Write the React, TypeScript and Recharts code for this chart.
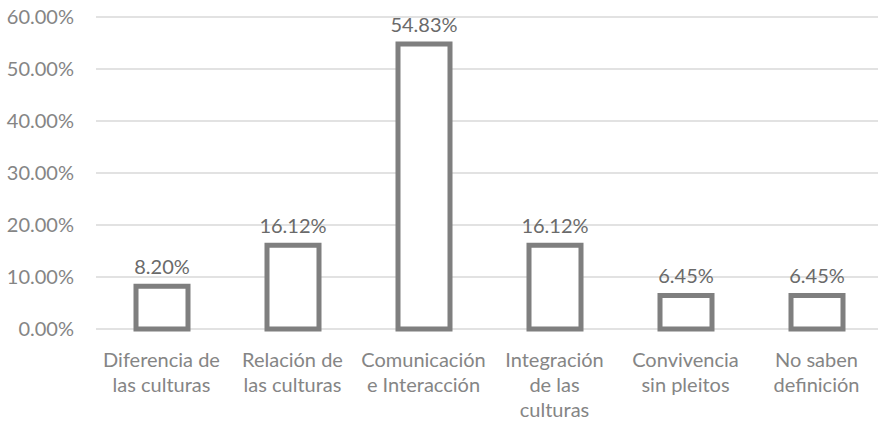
import { Bar, BarChart, CartesianGrid, LabelList, XAxis, YAxis } from 'recharts';

const categories = [
    'Diferencia de las culturas',
    'Relación de las culturas',
    'Comunicación e Interacción',
    'Integración de las culturas',
    'Convivencia sin pleitos',
    'No saben definición',
];
const tickLines = [
    ['Diferencia de', 'las culturas'],
    ['Relación de', 'las culturas'],
    ['Comunicación', 'e Interacción'],
    ['Integración', 'de las', 'culturas'],
    ['Convivencia', 'sin pleitos'],
    ['No saben', 'definición'],
];
const percentages = [8.2, 16.12, 54.83, 16.12, 6.45, 6.45];
const yTicks = [0, 10, 20, 30, 40, 50, 60];

const data = categories.map((name, i) => ({ name, value: percentages[i] }));

const font = 'Lato, "Open Sans", sans-serif';

const CategoryTick = ({ x, index }: any) => {
    const lines = tickLines[index] || [];
    return (
        <g>
            {lines.map((l, i) => (
                <text key={i} x={x} y={367 + i * 25} textAnchor='middle' fill='#858585' fontSize={20} fontFamily={font}>
                    {l}
                </text>
            ))}
        </g>
    );
};

export default function App() {
    return (
        <div style={{ position: 'absolute', left: 0, top: 0, width: 878, height: 422, overflow: 'hidden', background: '#fff' }}>
            <BarChart
                width={890}
                height={422}
                data={data}
                margin={{ top: 17, right: 8, bottom: 0, left: 0 }}
                barCategoryGap={0}
                style={{ overflow: 'visible' }}
            >
                <CartesianGrid vertical={false} stroke='#d9d9d9' strokeWidth={1.5} />
                <XAxis
                    dataKey='name'
                    interval={0}
                    height={93}
                    tickLine={false}
                    tickSize={0}
                    axisLine={false}
                    tick={<CategoryTick />}
                />
                <YAxis
                    width={96}
                    domain={[0, 60]}
                    ticks={yTicks}
                    axisLine={false}
                    tickLine={false}
                    tickSize={0}
                    tickMargin={22}
                    tickFormatter={(v: number) => v.toFixed(2) + '%'}
                    tick={{ fill: '#858585', fontSize: 20, fontFamily: font }}
                />
                <Bar
                    dataKey='value'
                    fill='#ffffff'
                    stroke='#7f7f7f'
                    strokeWidth={5}
                    barSize={52}
                    isAnimationActive={false}
                >
                    <LabelList
                        dataKey='value'
                        position='top'
                        offset={12}
                        formatter={(v: any) => Number(v).toFixed(2) + '%'}
                        style={{ fill: '#6a6a6a', fontSize: 20, fontFamily: font }}
                    />
                </Bar>
            </BarChart>
        </div>
    );
}
